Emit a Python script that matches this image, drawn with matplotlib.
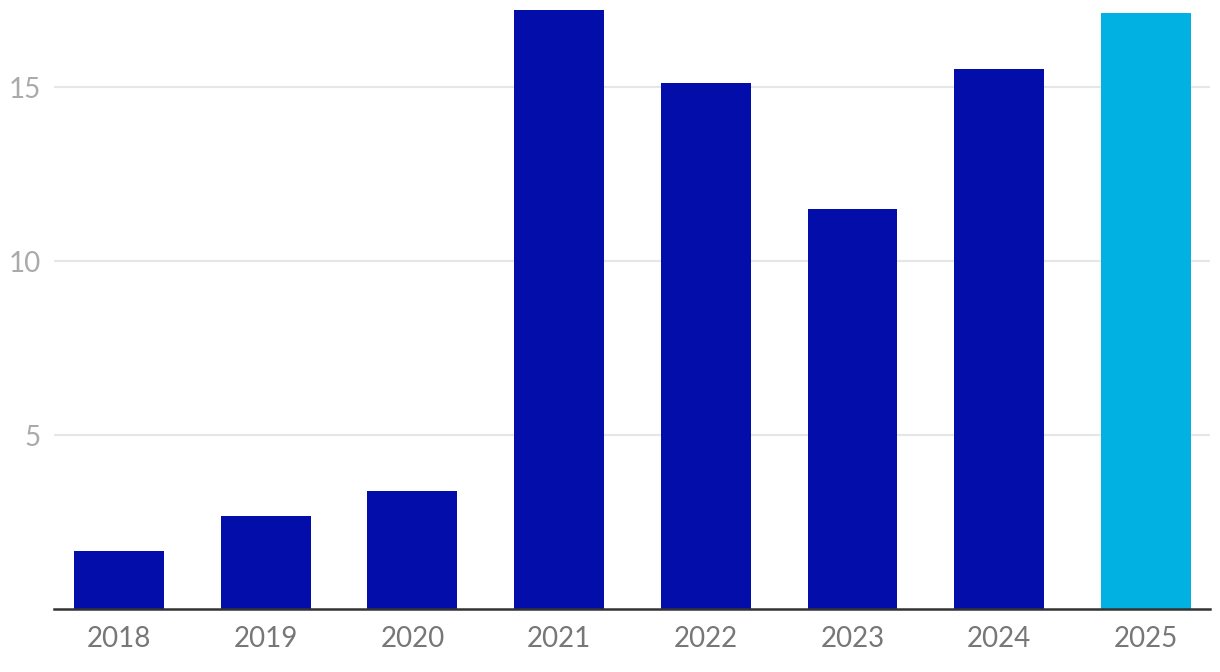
import numpy as np
import matplotlib.pyplot as plt

years = ['2018', '2019', '2020', '2021', '2022', '2023', '2024', '2025']
values = [1.67, 2.67, 3.39, 17.21, 15.11, 11.49, 15.52, 17.13]
colors = ['#020daa'] * 7 + ['#00b1e1']

plt.rcParams['font.family'] = ['Lato', 'DejaVu Sans']

fig = plt.figure(figsize=(12.2, 6.72), dpi=100)
ax = fig.add_axes([54/1220, 1 - 609/672, (1210-54)/1220, (609-6)/672])

x = np.arange(len(years))
ax.bar(x, values, width=0.613, color=colors, zorder=3)

ax.set_xlim(-0.443, 7.437)
ax.set_ylim(0, 17.33)
ax.set_yticks([5, 10, 15])
ax.set_xticks(x)
ax.set_xticklabels(years)
ax.grid(axis='y', color='#e6e6e6', linewidth=1.5, zorder=0)

for s in ['top', 'right', 'left']:
    ax.spines[s].set_visible(False)
ax.spines['bottom'].set_color('#333333')
ax.spines['bottom'].set_linewidth(1.8)
ax.spines['bottom'].set_zorder(4)

ax.tick_params(axis='x', length=0, pad=12, labelsize=20, labelcolor='#777777')
ax.tick_params(axis='y', length=0, pad=9.5, labelsize=20, labelcolor='#aaaaaa')

fig.savefig('out.png', dpi=100)
